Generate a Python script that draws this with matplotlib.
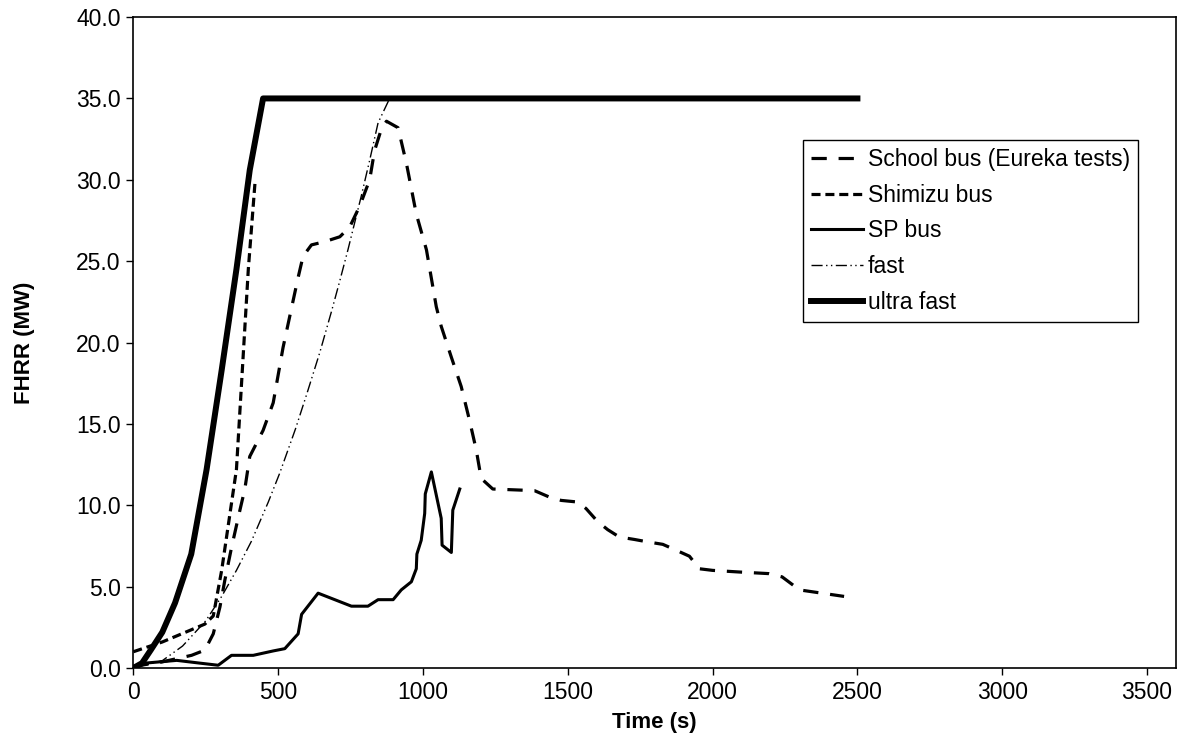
import matplotlib
matplotlib.use("Agg")
import matplotlib.pyplot as plt

plt.rcParams['font.family'] = ['Liberation Sans', 'DejaVu Sans']
plt.rcParams['lines.scale_dashes'] = False

# School bus (Eureka tests)
school_t = [0, 98, 201, 247, 276, 299, 316, 339, 368, 385, 402, 448, 483, 517, 552, 569, 586,
            615, 661, 713, 747, 782, 816, 833, 856, 874, 914, 943, 977, 1012, 1046, 1063, 1098,
            1132, 1161, 1184, 1201, 1241, 1385, 1437, 1477, 1534, 1563, 1603, 1638, 1678, 1730,
            1776, 1828, 1874, 1920, 1954, 2000, 2092, 2195, 2240, 2300, 2454]
school_q = [0.1, 0.37, 0.78, 1.1, 2.1, 3.75, 5.4, 7.4, 9.7, 11.0, 13.0, 14.6, 16.3, 19.7, 22.6,
            24.0, 25.3, 26.0, 26.2, 26.5, 27.1, 28.4, 30.0, 31.8, 33.1, 33.6, 33.2, 31.0, 27.9,
            25.7, 22.2, 21.0, 19.1, 17.3, 15.2, 13.4, 11.65, 11.0, 10.9, 10.5, 10.3, 10.2, 9.8,
            9.0, 8.5, 8.05, 7.9, 7.75, 7.6, 7.24, 6.87, 6.1, 6.0, 5.9, 5.8, 5.6, 4.8, 4.4]

# Shimizu bus
shimizu_t = [0, 100, 247, 276, 305, 356, 397, 420]
shimizu_q = [1.0, 1.6, 2.7, 3.2, 6.0, 12.2, 24.5, 29.8]

# SP bus
sp_t = [0, 40, 150, 230, 293, 339, 414, 483, 523, 569, 581, 638, 753, 810, 845, 897, 925,
        960, 977, 979, 994, 1006, 1008, 1029, 1063, 1066, 1098, 1103, 1127]
sp_q = [0.0, 0.3, 0.47, 0.3, 0.17, 0.78, 0.78, 1.05, 1.19, 2.1, 3.3, 4.6, 3.8, 3.8, 4.2, 4.2,
        4.8, 5.3, 6.1, 7.0, 7.85, 9.5, 10.7, 12.05, 9.2, 7.55, 7.1, 9.7, 11.0]

# fast
fast_t = [0, 100, 170, 250, 305, 356, 408, 466, 506, 560, 600, 644, 684, 713, 741, 787, 816, 845, 885]
fast_q = [0.0, 0.45, 1.35, 2.9, 4.4, 6.0, 7.8, 10.2, 12.0, 14.7, 16.9, 19.4, 21.9, 23.8, 25.7,
          29.0, 31.2, 33.5, 35.0]

# ultra fast
ultra_t = [0, 30, 60, 100, 144, 200, 253, 305, 356, 402, 448, 2500]
ultra_q = [0.0, 0.3, 1.1, 2.2, 4.0, 7.0, 12.2, 18.3, 24.5, 30.6, 35.0, 35.0]

xticks = [0, 500, 1000, 1500, 2000, 2500, 3000, 3500]
yticks = [0, 5, 10, 15, 20, 25, 30, 35, 40]

fig = plt.figure(figsize=(11.83, 7.42), dpi=100)
ax = fig.add_axes([0.1127, 0.0997, 0.8814, 0.8773])

ax.plot(school_t, school_q, color='black', lw=2.3, dashes=[11, 8.5], label='School bus (Eureka tests)')
ax.plot(shimizu_t, shimizu_q, color='black', lw=2.3, dashes=[6.5, 3.5], label='Shimizu bus')
ax.plot(sp_t, sp_q, color='black', lw=2.2, label='SP bus')
ax.plot(fast_t, fast_q, color='black', lw=1.0, dashes=[8, 2.5, 1, 2.5, 1, 2.5], label='fast')
ax.plot(ultra_t, ultra_q, color='black', lw=4.3, label='ultra fast')

ax.set_xlim(0, 3600)
ax.set_ylim(0, 40)
ax.set_xticks(xticks)
ax.set_yticks(yticks)
ax.set_yticklabels(['%.1f' % v for v in yticks])
ax.tick_params(direction='out', length=5, width=1, labelsize=16.5, colors='black', pad=4)
for s in ax.spines.values():
    s.set_linewidth(1.2)
    s.set_color('black')

ax.set_xlabel('Time (s)', fontsize=16, fontweight='bold', labelpad=6)
ax.set_ylabel('FHRR (MW)', fontsize=16, fontweight='bold', labelpad=30)

leg = ax.legend(loc='upper left', bbox_to_anchor=(0.642, 0.811), borderaxespad=0,
                fontsize=16.5, frameon=True, fancybox=False, framealpha=1,
                edgecolor='black', handlelength=2.3, handletextpad=0.2,
                labelspacing=0.55, borderpad=0.35)
leg.get_frame().set_linewidth(1.0)

fig.savefig('out.png', dpi=100)
